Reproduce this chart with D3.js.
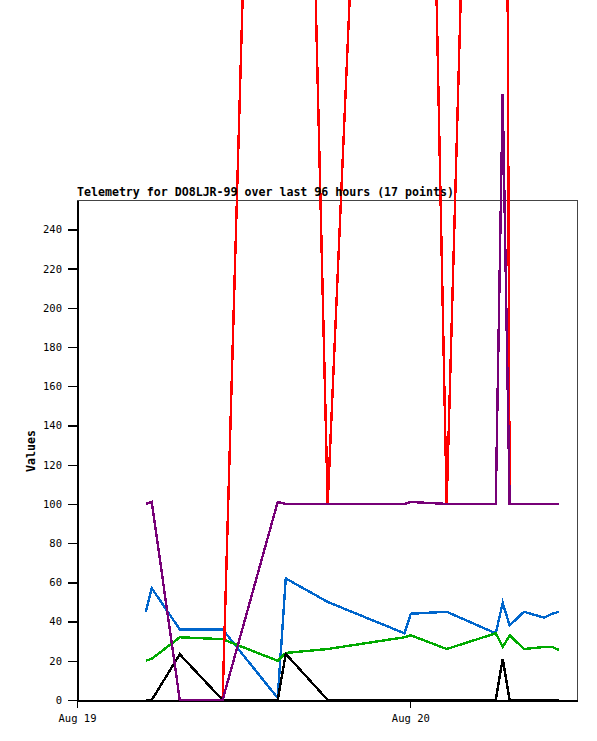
<!DOCTYPE html>
<html>
<head>
<meta charset="utf-8">
<script src="https://cdn.jsdelivr.net/npm/d3@7"></script>
<style>
  html, body { margin: 0; padding: 0; background: #ffffff; }
  svg { display: block; }
</style>
</head>
<body>
<script>
// ---- Data ----
const times = [
  "2024-08-19 04:57", "2024-08-19 05:23", "2024-08-19 07:24", "2024-08-19 10:29",
  "2024-08-19 14:27", "2024-08-19 15:02", "2024-08-19 18:03", "2024-08-19 23:35",
  "2024-08-20 00:02", "2024-08-20 02:37", "2024-08-20 06:09", "2024-08-20 06:39",
  "2024-08-20 07:09", "2024-08-20 08:11", "2024-08-20 09:37", "2024-08-20 10:14",
  "2024-08-20 10:42"
];
const blueValues   = [45, 57, 36, 36, 1, 62, 50, 34, 44, 45, 34, 49.5, 38, 45, 42, 44, 45];
const greenValues  = [20, 21, 32, 31, 20, 24, 26, 32, 33, 26, 34, 27, 33, 26, 27, 27, 25.5];
const redValues    = [null, null, null, 0, 985, 1000, 100, 1000, 1015, 100, 1000, 1000, 100, 100, 100, 100, 100];
const blackValues  = [0, 0, 23.3, 0, 0, 23.5, 0, 0, 0, 0, 0, 21, 0, 0, 0, 0, 0];
const purpleValues = [100, 101, 0, 0, 101, 100, 100, 100, 101, 100, 100, 309, 100, 100, 100, 100, 100];
const yTickValues  = [0, 20, 40, 60, 80, 100, 120, 140, 160, 180, 200, 220, 240];
const xDomainStrings = ["2024-08-19 00:00", "2024-08-20 12:00"];
const titleText = "Telemetry for DO8LJR-99 over last 96 hours (17 points)";
const yLabelText = "Values";

const seriesList = [
  { name: "blue",   values: blueValues,   color: "#0066cc" },
  { name: "green",  values: greenValues,  color: "#00aa00" },
  { name: "red",    values: redValues,    color: "#ff0000" },
  { name: "black",  values: blackValues,  color: "#000000" },
  { name: "purple", values: purpleValues, color: "#770077" }
];

// ---- Layout ----
const W = 597, H = 741;
const plotLeft = 77, plotRight = 577, plotTop = 200, plotBottom = 700;

const parse = d3.timeParse("%Y-%m-%d %H:%M");
const dates = times.map(parse);

const x = d3.scaleTime().domain(xDomainStrings.map(parse)).range([plotLeft, plotRight]);
const y = d3.scaleLinear().domain([0, 255]).range([plotBottom, plotTop]);

const svg = d3.select("body").append("svg")
  .attr("width", W).attr("height", H)
  .attr("viewBox", `0 0 ${W} ${H}`);

// frame (top and right)
svg.append("path")
  .attr("d", `M${plotLeft},${plotTop + 0.5}H${plotRight + 0.5}V${plotBottom}`)
  .attr("fill", "none").attr("stroke", "#444").attr("stroke-width", 1)
  .attr("shape-rendering", "crispEdges");

// y axis
const yAxis = d3.axisLeft(y).tickValues(yTickValues).tickSize(9).tickPadding(6).tickSizeOuter(0);
const gy = svg.append("g").attr("transform", `translate(${plotLeft},0)`).call(yAxis);
gy.select(".domain").attr("stroke", "#000").attr("stroke-width", 2).attr("shape-rendering", "crispEdges");
gy.selectAll(".tick line").attr("stroke", "#000").attr("stroke-width", 1.3).attr("shape-rendering", "crispEdges");
gy.selectAll(".tick text")
  .attr("font-family", "'DejaVu Sans Mono', monospace").attr("font-size", 10.5)
  .attr("fill", "#000");

// x axis
const xAxis = d3.axisBottom(x).ticks(d3.timeDay.every(1)).tickFormat(d3.timeFormat("%b %d"))
  .tickSize(8).tickPadding(7).tickSizeOuter(0);
const gx = svg.append("g").attr("transform", `translate(0,${plotBottom})`).call(xAxis);
gx.select(".domain").attr("stroke", "#000").attr("stroke-width", 2).attr("shape-rendering", "crispEdges");
gx.selectAll(".tick line").attr("stroke", "#000").attr("stroke-width", 1.3).attr("shape-rendering", "crispEdges");
gx.selectAll(".tick text")
  .attr("font-family", "'DejaVu Sans Mono', monospace").attr("font-size", 10.5)
  .attr("fill", "#000");

// lines (not clipped, they run beyond the frame as in the reference)
const line = d3.line()
  .defined(d => d.v !== null && d.v !== undefined)
  .x(d => x(d.t))
  .y(d => y(d.v));

svg.append("g").selectAll("path.series")
  .data(seriesList)
  .join("path")
  .attr("class", "series")
  .attr("fill", "none")
  .attr("stroke", d => d.color)
  .attr("stroke-width", 2.4)
  .attr("stroke-linejoin", "miter")
  .attr("shape-rendering", "crispEdges")
  .attr("d", d => line(d.values.map((v, i) => ({ t: dates[i], v }))));

// title
svg.append("text")
  .attr("x", plotLeft).attr("y", 196)
  .attr("font-family", "'DejaVu Sans Mono', monospace")
  .attr("font-weight", "bold").attr("font-size", 11.6)
  .attr("fill", "#000")
  .text(titleText);

// y label
svg.append("text")
  .attr("transform", `translate(${35},${(plotTop + plotBottom) / 2 + 1}) rotate(-90)`)
  .attr("text-anchor", "middle")
  .attr("font-family", "'DejaVu Sans Mono', monospace")
  .attr("font-weight", "bold").attr("font-size", 11.6)
  .attr("fill", "#000")
  .text(yLabelText);
</script>
</body>
</html>
